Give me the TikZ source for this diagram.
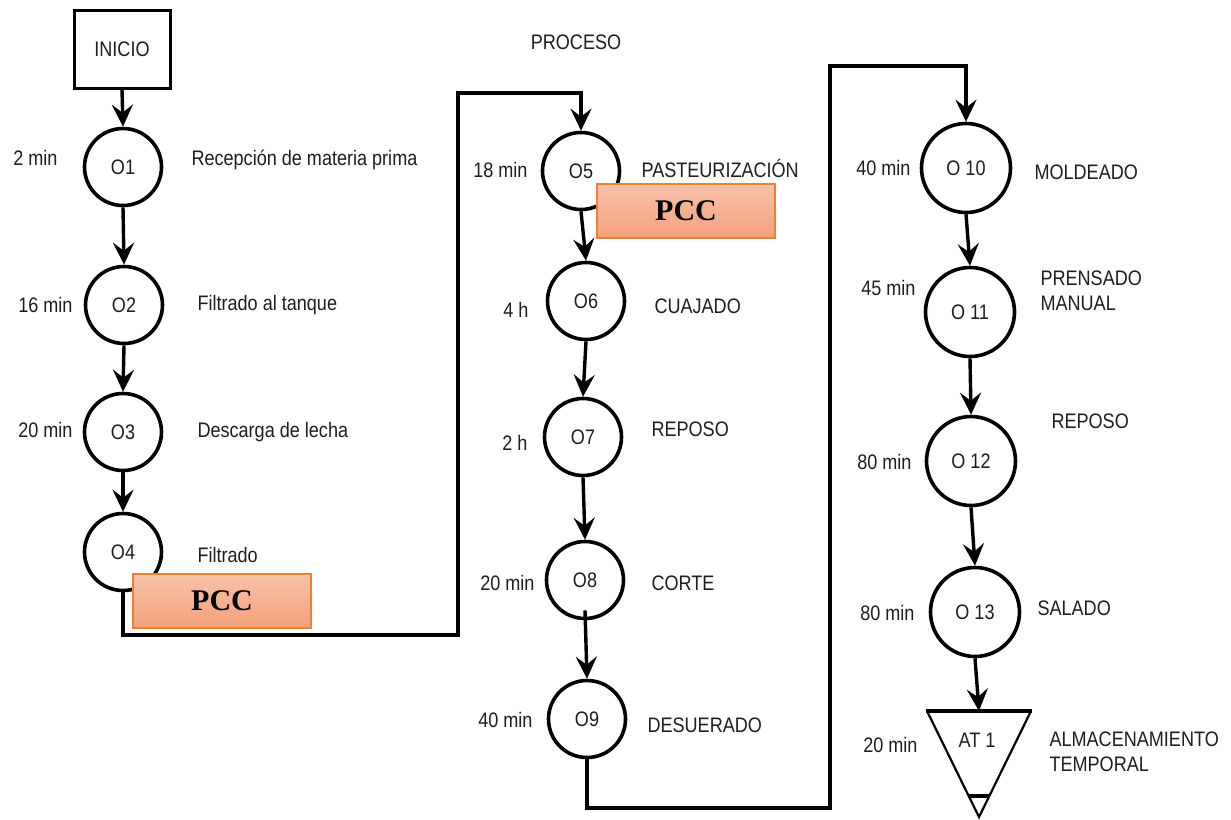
\documentclass[tikz,border=0pt]{standalone}
\usepackage{fontspec}
\setmainfont{Liberation Sans}[FakeStretch=0.86]
\newfontfamily\pccfont{Liberation Serif}
\usetikzlibrary{arrows.meta}
\definecolor{txt}{HTML}{1E1E1E}
\definecolor{pcctop}{HTML}{F8C2A8}
\definecolor{pccbot}{HTML}{F4A07C}
\definecolor{pccedge}{HTML}{EE8036}
\begin{document}
\begin{tikzpicture}[x=1pt,y=-1pt,
  every node/.style={text=txt,font=\fontsize{21}{25}\selectfont},
  op/.style={draw=black,line width=3.6pt,circle,minimum size=77pt,inner sep=0pt},
  startbox/.style={draw=black,line width=3pt,minimum width=96pt,minimum height=78pt,inner sep=0pt},
  pccbox/.style={draw=pccedge,line width=1.2pt,top color=pcctop,bottom color=pccbot,
     minimum width=178pt,minimum height=54pt,inner sep=0pt,
     font=\pccfont\bfseries\fontsize{30}{32}\selectfont,text=black},
  flow/.style={line width=3.4pt,-{Stealth[length=22pt,width=21pt,inset=8pt]}},
  tl/.style={anchor=east},
  dl/.style={anchor=west},
]
\useasboundingbox (0,0) rectangle (1231,819);
\fill[white] (0,0) rectangle (1231,819);

% column 1
\node[startbox] (ini) at (122,49) {INICIO};
\node[op] (o1) at (123,167) {O1};
\node[op] (o2) at (124,305) {O2};
\node[op] (o3) at (123,432) {O3};
\node[op] (o4) at (123,552) {O4};

\node[tl] (t1) at (61,158) {2 min};
\node[tl] (t2) at (76,305) {16 min};
\node[tl] (t3) at (76,430) {20 min};
\node[dl] (d1) at (188,160) {Recepción de materia prima};
\node[dl] (d2) at (194,305) {Filtrado al tanque};
\node[dl] (d3) at (194,432) {Descarga de lecha};
\node[dl] (d4) at (194,555) {Filtrado};

% column 2
\node (proc) at (576,42) {PROCESO};
\node[op] (o5) at (581,171) {O5};
\node[op] (o6) at (586,301) {O6};
\node[op] (o7) at (583,437) {O7};
\node[op] (o8) at (585,580) {O8};
\node[op] (o9) at (587,719) {O9};

\node[tl] (t5) at (531,170) {18 min};
\node[tl] (t6) at (532,310) {4 h};
\node[tl] (t7) at (531,443) {2 h};
\node[tl] (t8) at (538,583) {20 min};
\node[tl] (t9) at (536,720) {40 min};
\node[dl] (d5) at (638,168) {PASTEURIZACIÓN};
\node[dl] (d6) at (651,306) {CUAJADO};
\node[dl] (d7) at (648,429) {REPOSO};
\node[dl] (d8) at (648,583) {CORTE};
\node[dl] (d9) at (644,725) {DESUERADO};

% column 3
\node[op,minimum size=89pt] (o10) at (966,168) {O 10};
\node[op,minimum size=89pt] (o11) at (970,312) {O 11};
\node[op,minimum size=89pt] (o12) at (971,461) {O 12};
\node[op,minimum size=89pt] (o13) at (975,612) {O 13};
\coordinate (attop) at (979,711);
\draw[line width=2.2pt,line join=miter] (927,711) -- (979,817) -- (1031,711);
\draw[line width=3.6pt] (926,711) -- (1032,711);
\draw[line width=3.2pt] (968,796) -- (989,796);
\node (at1) at (977,740) {AT 1};

\node[tl] (t10) at (914,168) {40 min};
\node[tl] (t11) at (919,288) {45 min};
\node[tl] (t12) at (915,462) {80 min};
\node[tl] (t13) at (918,613) {80 min};
\node[tl] (t14) at (921,745) {20 min};
\node[dl] (d10) at (1031,172) {MOLDEADO};
\node[dl,align=left] (d11) at (1037,291) {PRENSADO\\MANUAL};
\node[dl] (d12) at (1048,421) {REPOSO};
\node[dl] (d13) at (1034,608) {SALADO};
\node[dl,align=left] (d14) at (1046,752) {ALMACENAMIENTO\\TEMPORAL};

% connectors
\draw[flow] (ini.south) -- (o1.north);
\draw[flow] (o1.south) -- (o2.north);
\draw[flow] (o2.south) -- (o3.north);
\draw[flow] (o3.south) -- (o4.north);
\coordinate (b1) at (458,635);
\coordinate (u1) at (458,93);
\draw[flow] (o4.south) |- (b1) -- (u1) -| (o5.north);
\draw[flow] (o5.south) -- (o6.north);
\draw[flow] (o6.south) -- (o7.north);
\draw[flow] (o7.south) -- (o8.north);
\coordinate (g8) at ([yshift=10pt]o8.south);
\draw[flow] (g8) -- (o9.north);
\coordinate (b2) at (830,808);
\coordinate (u2) at (830,66);
\draw[flow] (o9.south) |- (b2) -- (u2) -| (o10.north);
\draw[flow] (o10.south) -- (o11.north);
\draw[flow] (o11.south) -- (o12.north);
\draw[flow] (o12.south) -- (o13.north);
\draw[flow] (o13.south) -- (attop);

% PCC labels
\node[pccbox] (pcc1) at (222,601) {PCC};
\node[pccbox] (pcc2) at (686,211) {PCC};
\end{tikzpicture}
\end{document}
